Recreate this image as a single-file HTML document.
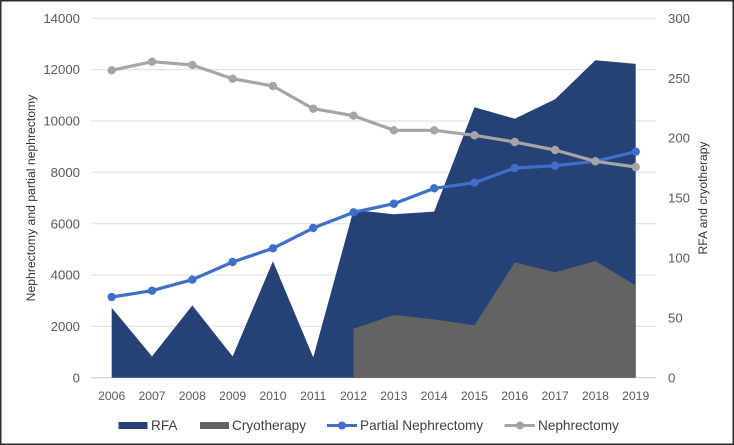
<!DOCTYPE html>
<html>
<head>
<meta charset="utf-8">
<style>
html,body{margin:0;padding:0;background:#fff;}
svg{display:block;filter:blur(0.35px);}
text{font-family:"Liberation Sans",sans-serif;}
</style>
</head>
<body>
<svg id="chart" xmlns="http://www.w3.org/2000/svg" width="734" height="445" viewBox="0 0 734 445"></svg>
<script>
const years = [2006,2007,2008,2009,2010,2011,2012,2013,2014,2015,2016,2017,2018,2019];
const rfa = [58.4,17.8,60.4,17.8,97.2,17,140,136.4,138.6,225.7,216.2,232.4,265,262];
const cryotherapy = [null,null,null,null,null,null,40.9,52.3,48.7,43.7,96.3,88,97.4,77.1];
const partialNephrectomy = [3143,3389,3817,4507,5040,5831,6442,6777,7377,7596,8168,8258,8430,8803];
const nephrectomy = [11974,12310,12180,11647,11362,10478,10206,9637,9637,9442,9181,8870,8430,8207];
const leftTicks = [0,2000,4000,6000,8000,10000,12000,14000];
const rightTicks = [0,50,100,150,200,250,300];

const svg = document.getElementById('chart');
const NS = 'http://www.w3.org/2000/svg';
const top_ = 18.3, bottom = 377.7, gridL = 91, gridR = 656, x0 = 111.7, x1 = 635.7;
const leftMax = 14000, rightMax = 300;

function xScale(i){ return x0 + (x1 - x0) * i / (years.length - 1); }
function yLeft(v){ return bottom - (bottom - top_) * v / leftMax; }
function yRight(v){ return bottom - (bottom - top_) * v / rightMax; }

function make(tag, attrs, text){
  const el = document.createElementNS(NS, tag);
  for (const k in attrs) el.setAttribute(k, attrs[k]);
  if (text !== undefined) el.textContent = text;
  svg.appendChild(el);
  return el;
}

// frame
const frame = make('rect', {x:0.75,y:0.75,width:732.5,height:443.5,fill:'#fff',stroke:'#2b2b2b','stroke-width':1.5});



// gridlines and left ticks
leftTicks.forEach(function(t){
  const y = yLeft(t);
  const g = make('line', {x1:gridL,x2:gridR,y1:y,y2:y,stroke:t === 0 ? '#d0d0d0' : '#e2e2e2','stroke-width':1.2});
  
  
  const l = make('text', {x:80,y:y+4.6,'text-anchor':'end','font-size':13.2,fill:'#595959'}, t);
  
  
});

// right ticks
rightTicks.forEach(function(t){
  const l = make('text', {x:668,y:yRight(t)+4.6,'font-size':13.2,fill:'#595959'}, t);
  
  
});

// x labels
years.forEach(function(yr,i){
  const l = make('text', {x:xScale(i),y:400,'text-anchor':'middle','font-size':12.2,fill:'#595959'}, yr);
  
  
});

function areaPath(vals){
  const idx = [];
  vals.forEach(function(v,i){ if (v !== null) idx.push(i); });
  let d = 'M' + xScale(idx[0]) + ' ' + yRight(0);
  idx.forEach(function(i){ d += ' L' + xScale(i) + ' ' + yRight(vals[i]); });
  d += ' L' + xScale(idx[idx.length-1]) + ' ' + yRight(0) + ' Z';
  return d;
}

const rfaArea = make('path', {d:areaPath(rfa),fill:'#254175'});


const cryoArea = make('path', {d:areaPath(cryotherapy),fill:'#636363'});



function lineSeries(vals,color,name){
  const pts = vals.map(function(v,i){ return xScale(i) + ',' + yLeft(v); }).join(' ');
  const p = make('polyline', {points:pts,fill:'none',stroke:color,'stroke-width':3.2,'stroke-linejoin':'round'});
  
  
  vals.forEach(function(v,i){
    const c = make('circle', {cx:xScale(i),cy:yLeft(v),r:4.2,fill:color});
    
    
  });
}
lineSeries(partialNephrectomy,'#3f6fc8','partial-nephrectomy');
lineSeries(nephrectomy,'#a5a5a5','nephrectomy');

// axis titles
const lt = make('text', {transform:'translate(35,198) rotate(-90)','text-anchor':'middle','font-size':12.2,fill:'#333'}, 'Nephrectomy and partial nephrectomy');


const rt = make('text', {transform:'translate(707,198) rotate(-90)','text-anchor':'middle','font-size':12.1,fill:'#333'}, 'RFA and cryotherapy');



// legend
const s1 = make('rect', {x:118.5,y:422,width:29,height:7,fill:'#254175'});


const t1 = make('text', {x:151,y:430,'font-size':13.6,fill:'#404040'}, 'RFA');


const s2 = make('rect', {x:200,y:422,width:29,height:7,fill:'#636363'});


const t2 = make('text', {x:232,y:430,'font-size':13.6,fill:'#404040'}, 'Cryotherapy');


const l3 = make('line', {x1:327,x2:357,y1:425.5,y2:425.5,stroke:'#3f6fc8','stroke-width':3});


const c3 = make('circle', {cx:342,cy:425.5,r:4,fill:'#3f6fc8'});


const t3 = make('text', {x:360,y:430,'font-size':13.6,fill:'#404040'}, 'Partial Nephrectomy');


const l4 = make('line', {x1:504.5,x2:535,y1:425.5,y2:425.5,stroke:'#a5a5a5','stroke-width':3});


const c4 = make('circle', {cx:520,cy:425.5,r:4,fill:'#a5a5a5'});


const t4 = make('text', {x:538,y:430,'font-size':13.6,fill:'#404040'}, 'Nephrectomy');


</script>
</body>
</html>
